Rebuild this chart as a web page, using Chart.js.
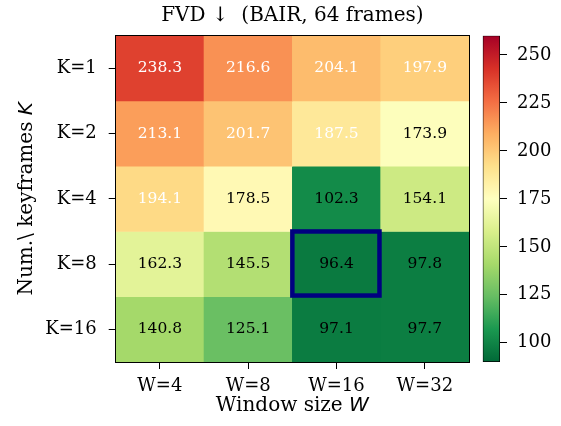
<!DOCTYPE html>
<html>
<head>
<meta charset="utf-8">
<script src="https://cdn.jsdelivr.net/npm/chart.js@4.4.0/dist/chart.umd.min.js"></script>
<style>
body { margin: 0; background: #fff; }
#wrap { position: relative; width: 561px; height: 426px; }
#heat { position: absolute; left: 0; top: 0; }
#cbar { position: absolute; left: 470px; top: 0; }
</style>
</head>
<body>
<div id="wrap">
    <canvas id="heat" width="561" height="426"></canvas>
    <canvas id="cbar" width="91" height="426"></canvas>
</div>
<script>
// Datos
const columnas = ["W=4", "W=8", "W=16", "W=32"];
const filas = ["K=1", "K=2", "K=4", "K=8", "K=16"];
const fvdK1 = [238.3, 216.6, 204.1, 197.9];
const fvdK2 = [213.1, 201.7, 187.5, 173.9];
const fvdK4 = [194.1, 178.5, 102.3, 154.1];
const fvdK8 = [162.3, 145.5, 96.4, 97.8];
const fvdK16 = [140.8, 125.1, 97.1, 97.7];
const valores = [fvdK1, fvdK2, fvdK4, fvdK8, fvdK16];

// Escala de color
const cbTicks = [100, 125, 150, 175, 200, 225, 250];
const cbMin = 90;
const cbMax = 260;

// Celda destacada
const celdaDestacada = { fila: "K=8", columna: "W=16" };

// Textos
const titulo = "FVD \u2193  (BAIR, 64 frames)";
const tituloX = ["Window size ", "W"];
const tituloY = ["Num.\\ keyframes ", "K"];

const SERIF = "'DejaVu Serif', serif";
const SANS = "'DejaVu Sans', sans-serif";

// RdYlGn (ColorBrewer), se usa invertido
const rdylgn = [
    [165, 0, 38], [215, 48, 39], [244, 109, 67], [253, 174, 97], [254, 224, 139],
    [255, 255, 191], [217, 239, 139], [166, 217, 106], [102, 189, 99], [26, 152, 80], [0, 104, 55]
];

function colorMapa(v) {
    let t = (v - cbMin) / (cbMax - cbMin);
    t = Math.min(1, Math.max(0, t));
    const p = (1 - t) * (rdylgn.length - 1);
    const i = Math.min(rdylgn.length - 2, Math.floor(p));
    const f = p - i;
    const a = rdylgn[i], b = rdylgn[i + 1];
    const c = a.map((x, k) => Math.round(x + (b[k] - x) * f));
    return `rgb(${c[0]}, ${c[1]}, ${c[2]})`;
}

// Texto con partes serif + cursiva
function textoMixto(ctx, partes, size) {
    const fuentes = [`${size}px ${SERIF}`, `italic ${size}px ${SANS}`];
    const anchos = partes.map((p, i) => {
        ctx.font = fuentes[i];
        return ctx.measureText(p).width;
    });
    const total = anchos[0] + anchos[1];
    let x = -total / 2;
    partes.forEach((p, i) => {
        ctx.font = fuentes[i];
        ctx.fillText(p, x, 0);
        x += anchos[i];
    });
}

// Plugin: título, etiquetas, marco, textos de celda y recuadro
const decoraciones = {
    id: "decoraciones",
    afterDatasetsDraw(chart) {
        const { ctx, chartArea } = chart;
        ctx.save();
        ctx.textAlign = "center";
        ctx.textBaseline = "middle";
        ctx.font = `15.5px ${SERIF}`;
        valores.forEach((fila, r) => {
            const meta = chart.getDatasetMeta(r);
            fila.forEach((v, c) => {
                const p = meta.data[c].getCenterPoint();
                ctx.fillStyle = v > 180 ? "#ffffff" : "#000000";
                ctx.fillText(v.toFixed(1), p.x, p.y);
            });
        });

        // recuadro
        const xs = chart.scales.x;
        const ys = chart.scales.y;
        const ci = columnas.indexOf(celdaDestacada.columna);
        const ri = filas.indexOf(celdaDestacada.fila);
        const anchoCol = chartArea.width / columnas.length;
        const x0 = xs.getPixelForValue(ci) - anchoCol / 2;
        const y0 = ys.getPixelForValue(ri);
        const y1 = ys.getPixelForValue(ri + 1);
        ctx.strokeStyle = "#000080";
        ctx.lineWidth = 4.5;
        ctx.strokeRect(x0, y0, anchoCol - 1.2, y1 - y0 - 1.2);

        // marco
        ctx.strokeStyle = "#000";
        ctx.lineWidth = 1;
        ctx.strokeRect(Math.round(chartArea.left) - 0.5, Math.round(chartArea.top) - 0.5,
            Math.round(chartArea.width) + 1, Math.round(chartArea.height) + 1);
        ctx.restore();
    },
    afterDraw(chart) {
        const { ctx, chartArea } = chart;
        const cx = (chartArea.left + chartArea.right) / 2;
        const cy = (chartArea.top + chartArea.bottom) / 2;
        ctx.save();
        ctx.fillStyle = "#000";
        ctx.textAlign = "left";
        ctx.textBaseline = "middle";

        ctx.save();
        ctx.font = `20px ${SERIF}`;
        ctx.textAlign = "center";
        ctx.fillText(titulo, cx, 16);
        ctx.restore();

        ctx.save();
        ctx.translate(cx, 406);
        textoMixto(ctx, tituloX, 20);
        ctx.restore();

        ctx.save();
        ctx.translate(27, cy);
        ctx.rotate(-Math.PI / 2);
        textoMixto(ctx, tituloY, 20);
        ctx.restore();
        ctx.restore();
    }
};

// Mapa de calor
const datasets = valores.map((fila, r) => ({
    label: filas[r],
    data: fila.map(() => [r, r + 1]),
    backgroundColor: fila.map((v) => colorMapa(v)),
    borderWidth: 0,
    categoryPercentage: 1,
    barPercentage: 1,
}));

new Chart(document.getElementById("heat"), {
    type: "bar",
    data: { labels: columnas, datasets: datasets },
    options: {
        responsive: false,
        animation: false,
        layout: { padding: { left: 45.7, right: 92, top: 35.7, bottom: 24 } },
        plugins: { legend: { display: false }, tooltip: { enabled: false } },
        scales: {
            x: {
                stacked: true,
                grid: { display: true, offset: false, drawOnChartArea: false, tickLength: 7, color: "#000" },
                border: { display: true, color: "#000" },
                ticks: { font: { family: SERIF, size: 18 }, color: "#000", padding: 7, maxRotation: 0 },
                afterFit: (s) => { s.height = 40; },
            },
            y: {
                min: 0,
                max: filas.length,
                reverse: true,
                grid: { display: true, drawOnChartArea: false, tickLength: 7, color: "#000" },
                border: { display: true, color: "#000" },
                ticks: {
                    font: { family: SERIF, size: 18 },
                    color: "#000",
                    padding: 12,
                    callback: (v, i) => filas[i],
                },
                afterBuildTicks: (s) => { s.ticks = filas.map((_, i) => ({ value: i + 0.5 })); },
                afterFit: (s) => { s.width = 70; },
            },
        },
    },
    plugins: [decoraciones],
});

// Barra de color
new Chart(document.getElementById("cbar"), {
    type: "bar",
    data: {
        labels: [""],
        datasets: [{
            data: [[cbMin, cbMax]],
            backgroundColor: (c) => {
                const chart = c.chart;
                if (!chart.chartArea) return null;
                const ys = chart.scales.y;
                const g = chart.ctx.createLinearGradient(0, ys.getPixelForValue(cbMin), 0, ys.getPixelForValue(cbMax));
                for (let i = 0; i <= 40; i++) {
                    g.addColorStop(i / 40, colorMapa(cbMin + (cbMax - cbMin) * i / 40));
                }
                return g;
            },
            borderColor: "#000",
            borderWidth: 1,
            borderSkipped: false,
            categoryPercentage: 1,
            barPercentage: 1,
        }],
    },
    options: {
        responsive: false,
        animation: false,
        layout: { padding: { left: 12.7, right: 0, top: 35.7, bottom: 64 } },
        plugins: { legend: { display: false }, tooltip: { enabled: false } },
        scales: {
            x: { display: false },
            y: {
                position: "right",
                min: cbMin,
                max: cbMax,
                grid: { display: true, drawOnChartArea: false, tickLength: 7, color: "#000" },
                border: { display: false },
                ticks: { font: { family: SERIF, size: 18 }, color: "#000", padding: 10 },
                afterBuildTicks: (s) => { s.ticks = cbTicks.map((v) => ({ value: v })); },
                afterFit: (s) => { s.width = 61; },
            },
        },
    },
});
</script>
</body>
</html>
